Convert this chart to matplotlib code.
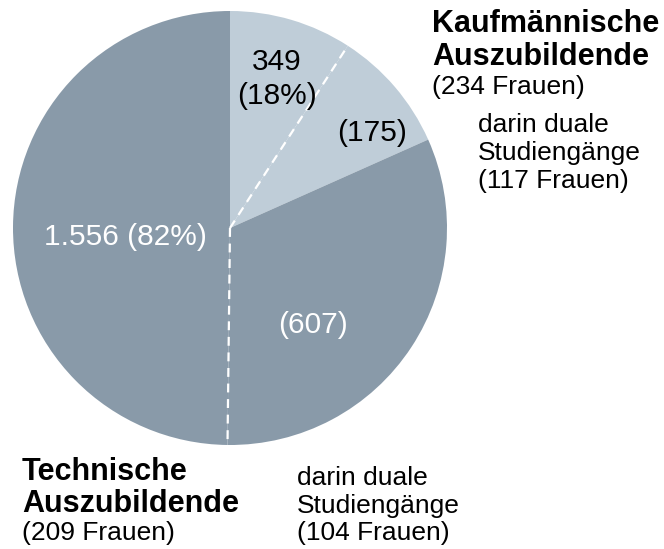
import numpy as np
import matplotlib
matplotlib.use("Agg")
import matplotlib.pyplot as plt

plt.rcParams["font.family"] = ["Liberation Sans", "DejaVu Sans"]

# data: kaufmaennisch (non-dual, dual), technisch (dual, non-dual)
parts = [174, 175, 607, 949]
part_colors = ["#bfcdd8", "#bfcdd8", "#899aa9", "#899aa9"]
total = sum(parts)
kauf_total = parts[0] + parts[1]
tech_total = parts[2] + parts[3]

W, H = 664, 549
cx, cy, r = 230, 549 - 228, 217

fig = plt.figure(figsize=(W / 100, H / 100), dpi=100)
ax = fig.add_axes([0, 0, 1, 1])

ax.pie(parts, colors=part_colors, startangle=90, counterclock=False,
       center=(cx, cy), radius=r, frame=True,
       wedgeprops=dict(linewidth=0, antialiased=True))
ax.set_xlim(0, W)
ax.set_ylim(0, H)
ax.set_aspect("equal")
ax.axis("off")

# dashed markers for the dual study portions
cum = np.cumsum(parts)
for b in [cum[0], cum[2]]:
    ang = np.deg2rad(90 - b / total * 360)
    ax.plot([cx, cx + r * np.cos(ang)], [cy, cy + r * np.sin(ang)],
            color="white", lw=1.6, ls=(0, (4, 3)))


def px(x, y):
    return x, H - y


big = 21.5
ax.text(*px(277, 79), f"{kauf_total}\n({kauf_total / total:.0%})", fontsize=big,
        ha="center", va="center", linespacing=1.3, color="black")
ax.text(*px(372, 133), f"({parts[1]})", fontsize=big, ha="center", va="center")
ax.text(*px(125, 237), f"{tech_total:,}".replace(",", ".") + f" ({tech_total / total:.0%})",
        fontsize=big, ha="center", va="center", color="white")
ax.text(*px(313, 325), f"({parts[2]})", fontsize=big, ha="center", va="center",
        color="white")

head = 22
sub = 19
ax.text(*px(432, 32), "Kaufmännische", fontsize=head, weight="bold", va="baseline")
ax.text(*px(432, 65), "Auszubildende", fontsize=head, weight="bold", va="baseline")
ax.text(*px(432, 94), "(234 Frauen)", fontsize=sub, va="baseline")
ax.text(*px(478, 132), "darin duale", fontsize=sub, va="baseline")
ax.text(*px(478, 160), "Studiengänge", fontsize=sub, va="baseline")
ax.text(*px(478, 188), "(117 Frauen)", fontsize=sub, va="baseline")

ax.text(*px(22, 480), "Technische", fontsize=head, weight="bold", va="baseline")
ax.text(*px(22, 512), "Auszubildende", fontsize=head, weight="bold", va="baseline")
ax.text(*px(22, 540), "(209 Frauen)", fontsize=sub, va="baseline")
ax.text(*px(297, 485), "darin duale", fontsize=sub, va="baseline")
ax.text(*px(297, 513), "Studiengänge", fontsize=sub, va="baseline")
ax.text(*px(297, 540), "(104 Frauen)", fontsize=sub, va="baseline")

fig.savefig("out.png", dpi=100, facecolor="white")
